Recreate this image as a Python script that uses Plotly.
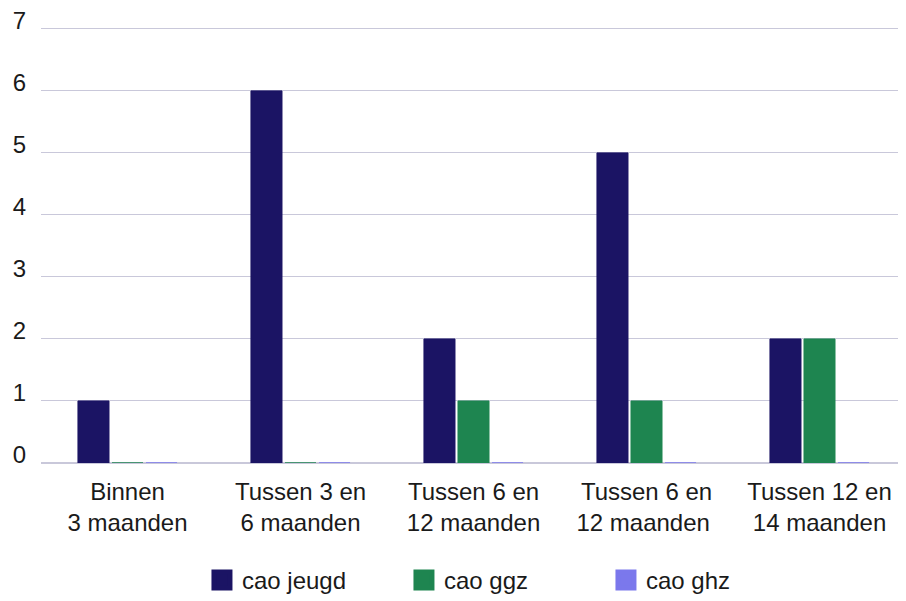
import plotly.graph_objects as go

categories = ["Binnen<br>3 maanden", "Tussen 3 en<br>6 maanden", "Tussen 6 en<br>12 maanden",
              "Tussen 6 en<br>12 maanden ", "Tussen 12 en<br>14 maanden"]
cao_jeugd = [1, 6, 2, 5, 2]
cao_ggz = [0, 0, 1, 1, 2]
cao_ghz = [0, 0, 0, 0, 0]
y_ticks = [0, 1, 2, 3, 4, 5, 6, 7]

series = [("cao jeugd", cao_jeugd, "#1b1464"),
          ("cao ggz", cao_ggz, "#1e8550"),
          ("cao ghz", cao_ghz, "#7b78ec")]

font = "Liberation Sans, Arial, Helvetica, sans-serif"
fig = go.Figure()
for name, vals, color in series:
    fig.add_trace(go.Bar(
        x=categories, y=vals, name=name, showlegend=False,
        marker=dict(color=color, line=dict(color=color, width=1)),
    ))
# legend entries with larger square swatches
for name, vals, color in series:
    fig.add_trace(go.Scatter(
        x=[None], y=[None], name=name, mode="markers",
        marker=dict(symbol="square", size=16, color=color, line=dict(color=color, width=5)),
    ))

fig.update_layout(
    width=898, height=593,
    margin=dict(l=33, r=0, t=19, b=138),
    paper_bgcolor="white", plot_bgcolor="white",
    barmode="group", bargap=0.41, bargroupgap=0.088,
    font=dict(family=font, size=24, color="#1a1a1a"),
    showlegend=True,
    legend=dict(orientation="h", x=0.216, xanchor="left", xref="container",
                y=0.0346, yanchor="middle", yref="container",
                font=dict(size=24), entrywidth=157, itemsizing="trace"),
    xaxis=dict(showgrid=False, showline=False, ticks="", tickfont=dict(size=24),
               automargin=False, ticklabelstandoff=12),
    yaxis=dict(range=[0, 7.03], tickvals=y_ticks, showgrid=True, gridcolor="#c9c8da",
               gridwidth=1, zeroline=True, zerolinecolor="#c9c8da", zerolinewidth=1.5,
               ticks="", ticklabelstandoff=14, ticklabelshift=-8, tickfont=dict(size=24),
               ticklabeloverflow="allow", automargin=False),
)

fig.write_html("out.html")
